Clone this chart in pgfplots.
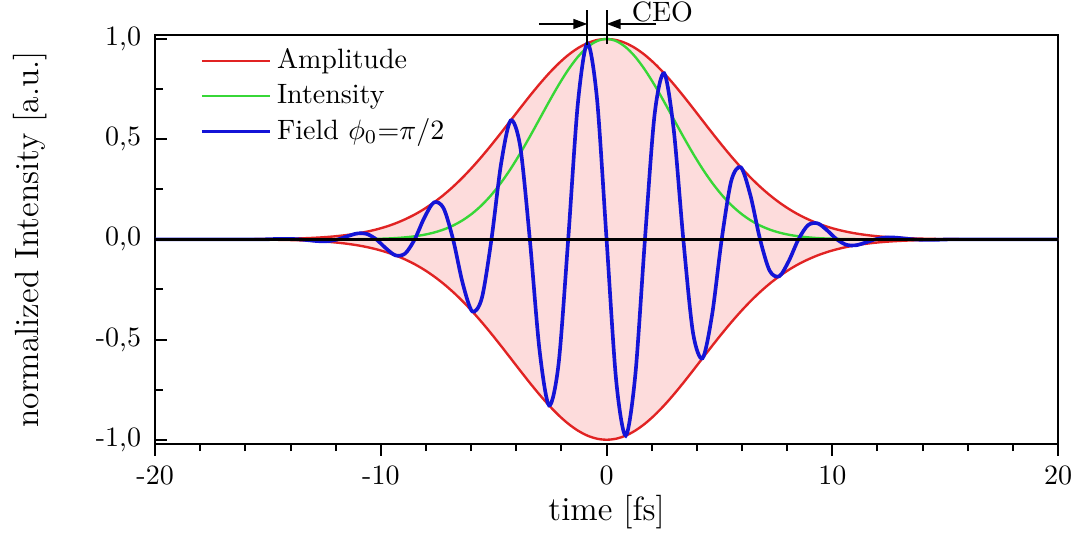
\documentclass[border=0pt]{standalone}
\usepackage{pgfplots}
\pgfplotsset{compat=1.18}
\usepackage{pgfplotstable}
\usepgfplotslibrary{fillbetween}
\usetikzlibrary{arrows.meta}

\definecolor{amp}{RGB}{225,35,35}
\definecolor{ampfill}{RGB}{253,220,220}
\definecolor{intens}{RGB}{55,215,55}
\definecolor{field}{RGB}{20,20,215}

% few-cycle pulse: envelope, intensity and carrier field (phi_0 = pi/2)
\pgfplotstableread{
t amp lo int field
-20 0 0 0 0
-17 0 0 0 0
-15.3 0.00115 -0.00115 0 0
-14.875 0.00167 -0.00167 0 0.00118
-14.45 0.00239 -0.00239 0 0.00239
-14.025 0.00340 -0.00340 0 0.00240
-13.6 0.00477 -0.00477 0 0
-13.175 0.00663 -0.00663 0.00004 -0.00469
-12.75 0.00911 -0.00911 0.00008 -0.00911
-12.325 0.01240 -0.01240 0.00015 -0.00877
-11.9 0.01669 -0.01669 0.00028 0
-11.475 0.02224 -0.02224 0.00049 0.01573
-11.05 0.02933 -0.02933 0.00086 0.02933
-10.625 0.03828 -0.03828 0.00147 0.02707
-10.2 0.04944 -0.04944 0.00244 0
-9.775 0.06319 -0.06319 0.00399 -0.04468
-9.35 0.07992 -0.07992 0.00639 -0.07992
-8.925 0.10024 -0.10024 0.01005 -0.07088
-8.5 0.12391 -0.12391 0.01535 0
-8.075 0.15190 -0.15190 0.02307 0.10741
-7.65 0.18426 -0.18426 0.03395 0.18426
-7.225 0.22120 -0.22120 0.04893 0.15641
-6.8 0.26278 -0.26278 0.06905 0
-6.375 0.30894 -0.30894 0.09544 -0.21845
-5.95 0.35944 -0.35944 0.12920 -0.35944
-5.525 0.41385 -0.41385 0.17127 -0.29264
-5.1 0.47155 -0.47155 0.22236 0
-4.675 0.53171 -0.53171 0.28272 0.37597
-4.25 0.59331 -0.59331 0.35202 0.59331
-3.825 0.65518 -0.65518 0.42926 0.46328
-3.4 0.71598 -0.71598 0.51263 0
-2.975 0.77430 -0.77430 0.59954 -0.54751
-2.55 0.82867 -0.82867 0.68669 -0.82867
-2.125 0.87765 -0.87765 0.77027 -0.62059
-1.7 0.91986 -0.91986 0.84614 0
-1.275 0.95411 -0.95411 0.91032 0.67466
-0.85 0.97933 -0.97933 0.95909 0.97933
-0.425 0.99479 -0.99479 0.98961 0.70342
0 1 -1 1 0
0.425 0.99479 -0.99479 0.98961 -0.70342
0.85 0.97933 -0.97933 0.95909 -0.97933
1.275 0.95411 -0.95411 0.91032 -0.67466
1.7 0.91986 -0.91986 0.84614 0
2.125 0.87765 -0.87765 0.77027 0.62059
2.55 0.82867 -0.82867 0.68669 0.82867
2.975 0.77430 -0.77430 0.59954 0.54751
3.4 0.71598 -0.71598 0.51263 0
3.825 0.65518 -0.65518 0.42926 -0.46328
4.25 0.59331 -0.59331 0.35202 -0.59331
4.675 0.53171 -0.53171 0.28272 -0.37597
5.1 0.47155 -0.47155 0.22236 0
5.525 0.41385 -0.41385 0.17127 0.29264
5.95 0.35944 -0.35944 0.12920 0.35944
6.375 0.30894 -0.30894 0.09544 0.21845
6.8 0.26278 -0.26278 0.06905 0
7.225 0.22120 -0.22120 0.04893 -0.15641
7.65 0.18426 -0.18426 0.03395 -0.18426
8.075 0.15190 -0.15190 0.02307 -0.10741
8.5 0.12391 -0.12391 0.01535 0
8.925 0.10024 -0.10024 0.01005 0.07088
9.35 0.07992 -0.07992 0.00639 0.07992
9.775 0.06319 -0.06319 0.00399 0.04468
10.2 0.04944 -0.04944 0.00244 0
10.625 0.03828 -0.03828 0.00147 -0.02707
11.05 0.02933 -0.02933 0.00086 -0.02933
11.475 0.02224 -0.02224 0.00049 -0.01573
11.9 0.01669 -0.01669 0.00028 0
12.325 0.01240 -0.01240 0.00015 0.00877
12.75 0.00911 -0.00911 0.00008 0.00911
13.175 0.00663 -0.00663 0.00004 0.00469
13.6 0.00477 -0.00477 0 0
14.025 0.00340 -0.00340 0 -0.00240
14.45 0.00239 -0.00239 0 -0.00239
14.875 0.00167 -0.00167 0 -0.00118
15.3 0.00115 -0.00115 0 0
17 0 0 0 0
20 0 0 0 0
}\pulse

\begin{document}
\begin{tikzpicture}
\begin{axis}[
  scale only axis, width=322.5pt, height=146pt,
  xmin=-20, xmax=20, ymin=-1.02, ymax=1.02,
  clip=false,
  axis line style={line width=0.7pt},
  xtick={-20,-10,0,10,20}, xticklabels={-20,-10,0,10,20},
  % short outward ticks every 2 fs
  extra x ticks={-18,-16,-14,-12,-8,-6,-4,-2,2,4,6,8,12,14,16,18},
  extra x tick labels={},
  extra x tick style={major tick length=2.6pt, xtick align=outside},
  ytick={-1,-0.5,0,0.5,1},
  yticklabels={{-1,0},{-0,5},{0,0},{0,5},{1,0}},
  minor y tick num=1,
  xtick pos=left, ytick pos=left,
  xtick align=outside, ytick align=inside,
  major tick length=4.3pt, minor tick length=2.8pt,
  every tick/.style={black, line width=0.7pt},
  tick label style={font=\normalsize},
  yticklabel style={xshift=-1.5pt},
  label style={font=\large},
  xlabel={time [fs]},
  ylabel={normalized Intensity [a.u.]},
  xlabel style={at={(axis description cs:0.5,-0.168)}, anchor=center},
  ylabel style={at={(axis description cs:-0.138,0.5)}, anchor=center},
  legend style={draw=none, fill=none, at={(rel axis cs:0.04,0.995)},
    anchor=north west, font=\normalsize},
  legend cell align=left,
  legend image code/.code={\draw[#1] (0cm,0cm) -- (0.85cm,0cm);},
]
\addplot[name path=upper, amp, line width=0.85pt, smooth] table[x=t, y=amp] {\pulse};
\addlegendentry{Amplitude}
\addplot[name path=lower, amp, line width=0.85pt, smooth, forget plot] table[x=t, y=lo] {\pulse};
\addplot[ampfill, forget plot] fill between[of=upper and lower];
\addplot[intens, line width=0.85pt, smooth] table[x=t, y=int] {\pulse};
\addlegendentry{Intensity}
\addplot[field, line width=1.3pt, smooth] table[x=t, y=field] {\pulse};
\addlegendentry{Field $\phi_0$=$\pi$/2}
% time axis at zero
\addplot[black, line width=1.1pt, forget plot] coordinates {(-20,0) (20,0)};

% carrier-envelope offset marker
\draw[black, line width=0.7pt] (axis cs:-0.85,0.97) -- (axis cs:-0.85,1.145);
\draw[black, line width=0.7pt] (axis cs:0,0.975) -- (axis cs:0,1.145);
\draw[black, line width=0.7pt, -{Triangle[length=5pt,width=3.5pt]}] (axis cs:-3.0,1.075) -- (axis cs:-0.85,1.075);
\draw[black, line width=0.7pt, -{Triangle[length=5pt,width=3.5pt]}] (axis cs:2.2,1.075) -- (axis cs:0,1.075);
\node[anchor=base west, inner sep=0pt] at (axis cs:1.1,1.085) {CEO};

\coordinate (sw) at (rel axis cs:0,0);
\coordinate (ne) at (rel axis cs:1,1);
\end{axis}
\pgfresetboundingbox
\path[use as bounding box] ([shift={(-55.4pt,-33.2pt)}]sw) rectangle ([shift={(8.2pt,12.5pt)}]ne);
\end{tikzpicture}
\end{document}
